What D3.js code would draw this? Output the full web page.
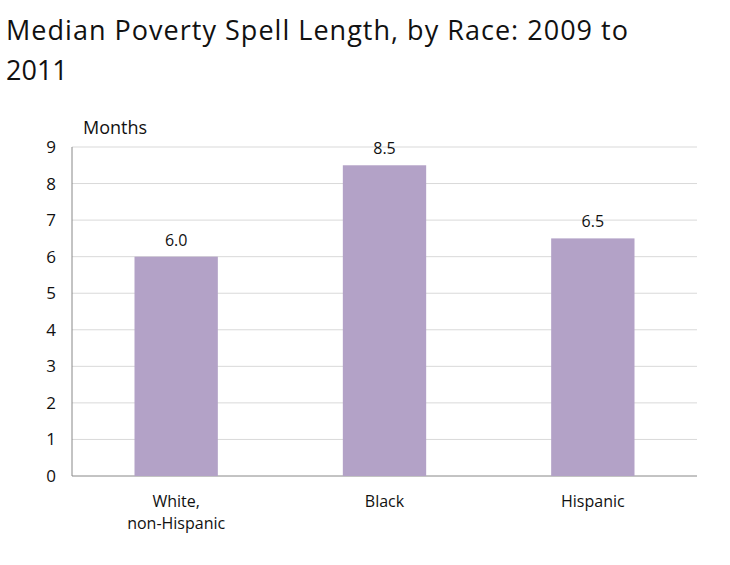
<!DOCTYPE html>
<html><head><meta charset="utf-8">
<script src="https://cdn.jsdelivr.net/npm/d3@7"></script>
<style>body{margin:0;background:#fff}text{font-family:"Open Sans",sans-serif}</style>
</head><body><svg id="c" width="730" height="565"></svg>
<script>
var categories = [["White,", "non-Hispanic"], ["Black"], ["Hispanic"]];
var values = [6.0, 8.5, 6.5];
var ticks = [0, 1, 2, 3, 4, 5, 6, 7, 8, 9];

var svg = d3.select("#c");
var x = d3.scaleBand().domain(d3.range(values.length)).range([72, 697]).paddingInner(0.6).paddingOuter(0.3);
var y = d3.scaleLinear().domain([0, 9]).range([476, 147]);

svg.append("text").attr("x", 6).attr("y", 40).attr("font-size", 27).attr("textLength", 622).attr("fill", "#111")
  .text("Median Poverty Spell Length, by Race: 2009 to");
svg.append("text").attr("x", 6).attr("y", 80).attr("font-size", 27).attr("fill", "#111").text("2011");
svg.append("text").attr("x", 83).attr("y", 134).attr("font-size", 18).attr("fill", "#111").text("Months");

svg.selectAll("line.grid").data(ticks).enter().append("line")
  .attr("x1", 72).attr("x2", 697).attr("y1", function (d) { return y(d); }).attr("y2", function (d) { return y(d); })
  .attr("stroke", function (d) { return d === 0 ? "#888" : "#d9d9d9"; }).attr("stroke-width", 1);
svg.append("line").attr("x1", 72).attr("x2", 72).attr("y1", 147).attr("y2", 476).attr("stroke", "#888");

svg.selectAll("text.tick").data(ticks).enter().append("text")
  .attr("x", 56).attr("y", function (d) { return y(d) + 6; }).attr("text-anchor", "end")
  .attr("font-size", 17).attr("fill", "#111").text(function (d) { return d; });

svg.selectAll("rect").data(values).enter().append("rect")
  .attr("x", function (d, i) { return x(i); }).attr("width", x.bandwidth())
  .attr("y", function (d) { return y(d); }).attr("height", function (d) { return y(0) - y(d); })
  .attr("fill", "#b3a2c7");

svg.selectAll("text.val").data(values).enter().append("text")
  .attr("x", function (d, i) { return x(i) + x.bandwidth() / 2; }).attr("y", function (d) { return y(d) - 11; })
  .attr("text-anchor", "middle").attr("font-size", 16).attr("fill", "#111").text(function (d) { return d.toFixed(1); });

categories.forEach(function (lines, i) {
  var t = svg.append("text").attr("text-anchor", "middle").attr("font-size", 16).attr("fill", "#111");
  lines.forEach(function (l, j) {
    t.append("tspan").attr("x", x(i) + x.bandwidth() / 2).attr("y", 507 + j * 22).text(l);
  });
});
</script></body></html>
